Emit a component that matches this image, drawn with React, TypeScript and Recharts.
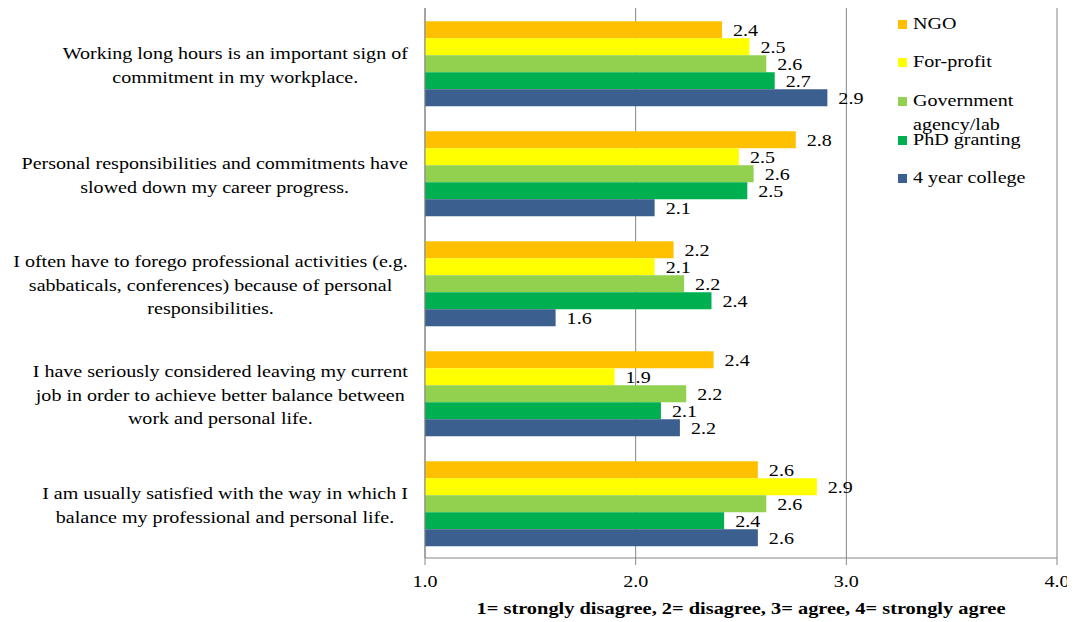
import React from "react";
import {
  BarChart,
  Bar,
  XAxis,
  YAxis,
  CartesianGrid,
  Legend,
  LabelList
} from "recharts";

const categories = [
  "Working long hours is an important sign of|commitment in my workplace.",
  "Personal responsibilities and commitments have|slowed down my career progress.",
  "I often have to forego professional activities (e.g.|sabbaticals, conferences) because of personal|responsibilities.",
  "I have seriously considered leaving my current|job in order to achieve better balance between|work and personal life.",
  "I am usually satisfied with the way in which I|balance my professional and personal life."
];

const ngo = [2.41, 2.76, 2.18, 2.37, 2.58];
const forProfit = [2.54, 2.49, 2.09, 1.9, 2.86];
const government = [2.62, 2.56, 2.23, 2.24, 2.62];
const phdGranting = [2.66, 2.53, 2.36, 2.12, 2.42];
const college = [2.91, 2.09, 1.62, 2.21, 2.58];

const xTicks = [1, 2, 3, 4];
const axisTitle = "1= strongly disagree, 2= disagree, 3= agree, 4= strongly agree";

const SERIES = [
  { key: "ngo", name: "NGO", color: "#FFC000" },
  { key: "forProfit", name: "For-profit", color: "#FFFF00" },
  { key: "government", name: "Government|agency/lab", color: "#92D050" },
  { key: "phd", name: "PhD granting", color: "#00B050" },
  { key: "college", name: "4 year college", color: "#3B5F8E" }
];

const data = categories.map((c, i) => ({
  category: c,
  ngo: ngo[i],
  forProfit: forProfit[i],
  government: government[i],
  phd: phdGranting[i],
  college: college[i]
}));

const FONT = "Liberation Serif, DejaVu Serif";
const FS = 17;
const SX = 1.18;

let ctx: CanvasRenderingContext2D | null = null;
const measure = (s: string, font = `${FS}px ${FONT}`) => {
  if (!ctx) ctx = document.createElement("canvas").getContext("2d");
  if (!ctx) return s.length * 7.5;
  ctx.font = font;
  return ctx.measureText(s).width;
};

const CategoryTick = ({ x, y, payload }: any) => {
  const lines = String(payload.value).split("|");
  const blockW = Math.max(...lines.map((l) => measure(l))) * SX;
  const cx = x - 9 - blockW / 2;
  const lh = 23.5;
  const start = y + 2 - ((lines.length - 1) * lh) / 2;
  return (
    <g>
      {lines.map((l, i) => (
        <text
          key={i}
          transform={`translate(${cx},${start + i * lh}) scale(${SX},1)`}
          textAnchor="middle"
          dominantBaseline="central"
          fontFamily={FONT}
          fontSize={FS}
          fill="#000"
        >
          {l}
        </text>
      ))}
    </g>
  );
};

const ValueTick = ({ x, y, payload }: any) => (
  <text
    transform={`translate(${x},${y + 14}) scale(${SX},1)`}
    textAnchor="middle"
    dominantBaseline="central"
    fontFamily={FONT}
    fontSize={FS}
    fill="#000"
  >
    {Number(payload.value).toFixed(1)}
  </text>
);

const ValueLabel = ({ x, y, width, height, value }: any) => (
  <text
    transform={`translate(${x + width + 11},${y + height / 2}) scale(${SX},1)`}
    dominantBaseline="central"
    fontFamily={FONT}
    fontSize={FS}
    fill="#000"
  >
    {Number(value).toFixed(1)}
  </text>
);

const AxisTitle = ({ viewBox }: any) => {
  const cx = viewBox.x + viewBox.width / 2;
  return (
    <text
      transform={`translate(${cx},${viewBox.y + 50}) scale(1.2,1)`}
      textAnchor="middle"
      dominantBaseline="central"
      fontFamily={FONT}
      fontSize={FS}
      fontWeight="bold"
      fill="#000"
    >
      {axisTitle}
    </text>
  );
};

const rowTops = [0, 38, 77, 116, 154];

const renderLegend = () => (
  <div style={{ position: "relative", width: 160, height: 190 }}>
    {SERIES.map((s, i) => (
      <div key={s.key} style={{ position: "absolute", left: 0, top: rowTops[i] }}>
        <div
          style={{
            position: "absolute",
            left: 0,
            top: 0,
            width: 9,
            height: 9,
            background: s.color
          }}
        />
        {s.name.split("|").map((l, j) => (
          <div
            key={j}
            style={{
              position: "absolute",
              left: 15,
              top: -7 + j * 24,
              whiteSpace: "nowrap",
              fontFamily: FONT,
              fontSize: FS,
              lineHeight: "22px",
              color: "#000",
              transform: `scaleX(${SX})`,
              transformOrigin: "left center"
            }}
          >
            {l}
          </div>
        ))}
      </div>
    ))}
  </div>
);

export default function App() {
  return (
    <div style={{ width: 1067, height: 614, background: "#fff" }}>
      <BarChart
        width={1067}
        height={614}
        data={data}
        layout="vertical"
        margin={{ top: 0, right: 18, bottom: 0, left: 0 }}
        barCategoryGap="12%"
        barGap={0}
      >
        <CartesianGrid horizontal={false} stroke="#868686" strokeWidth={1} />
        <XAxis
          type="number"
          domain={[1, 4]}
          ticks={xTicks}
          height={64}
          stroke="#868686"
          tickSize={7}
          tick={<ValueTick />}
          label={<AxisTitle />}
        />
        <YAxis
          type="category"
          dataKey="category"
          width={417}
          stroke="#868686"
          tickLine={false}
          tick={<CategoryTick />}
          interval={0}
        />
        <Legend
          content={renderLegend}
          layout="vertical"
          align="center"
          verticalAlign="middle"
          wrapperStyle={{ position: "absolute", left: 890, top: 12, width: 160 }}
        />
        {SERIES.map((s) => (
          <Bar
            key={s.key}
            dataKey={s.key}
            name={s.name}
            fill={s.color}
            isAnimationActive={false}
          >
            <LabelList dataKey={s.key} content={<ValueLabel />} />
          </Bar>
        ))}
      </BarChart>
    </div>
  );
}
